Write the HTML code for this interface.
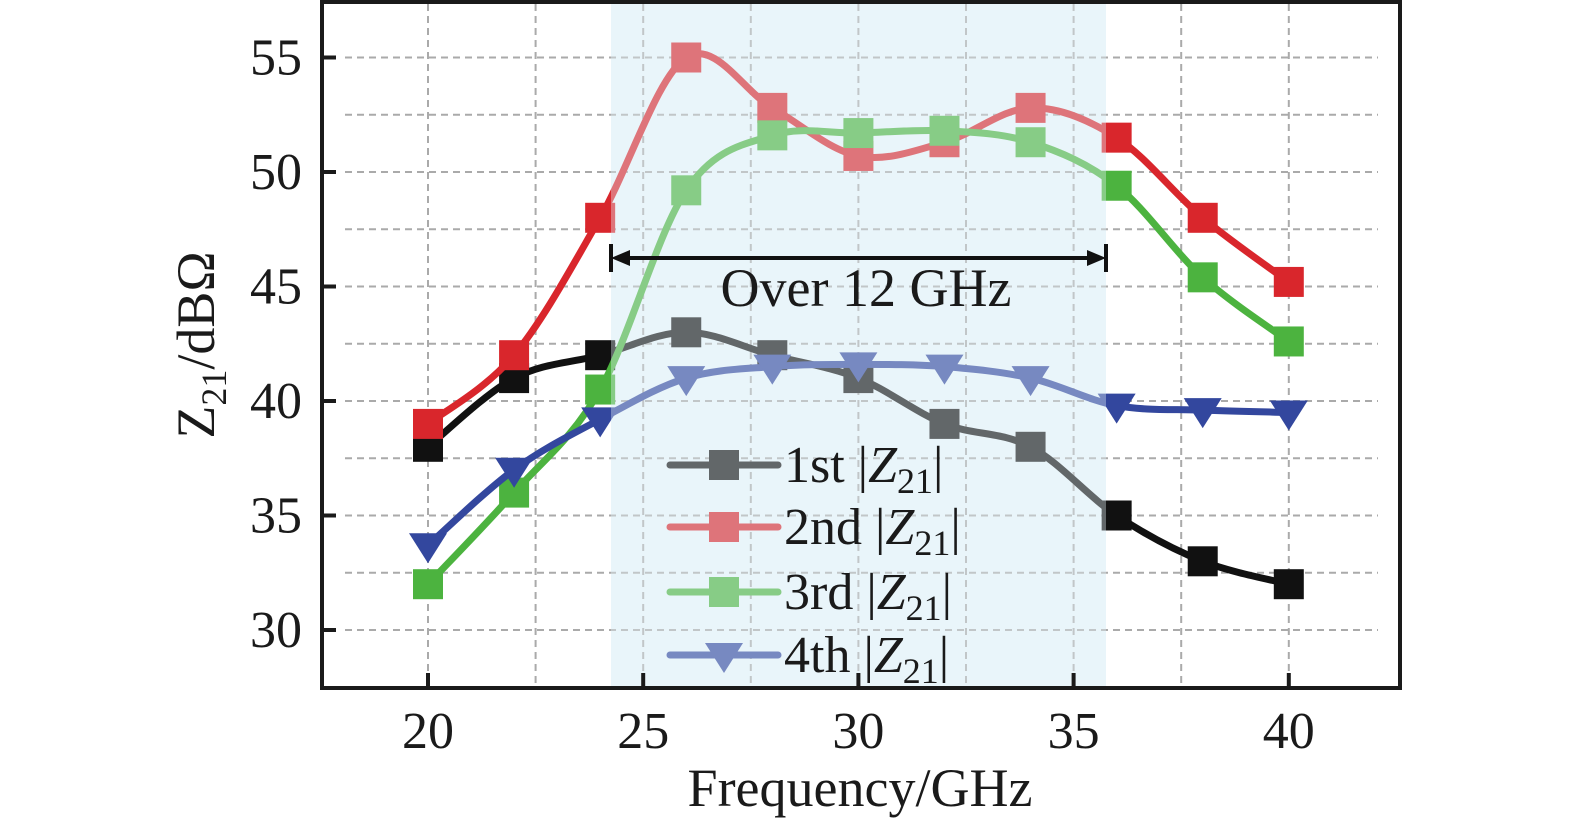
<!DOCTYPE html>
<html><head><meta charset="utf-8"><style>
html,body{margin:0;padding:0;background:#fff;}
svg{display:block;}
text{font-family:"Liberation Serif","Times New Roman",serif;fill:#1a1a1a;}
</style></head><body>
<svg id="s" width="1575" height="828" viewBox="0 0 1575 828" xmlns="http://www.w3.org/2000/svg">
<rect x="611" y="2" width="495" height="685" fill="#ebf5fa"/>
<g id="grid" stroke="#aaa" stroke-width="2" stroke-dasharray="7,5" fill="none"></g>
<g id="series"></g>
<g id="leg"></g>
<rect x="611" y="2" width="495" height="685" fill="rgba(232,244,250,0.38)"/>
<rect x="322" y="2" width="1078" height="686" fill="none" stroke="#1a1a1a" stroke-width="4"/>
<g id="ticks" stroke="#1a1a1a" stroke-width="4"></g>
<g font-size="52" text-anchor="end" id="ylab"></g>
<g font-size="52" text-anchor="middle" id="xlab"></g>
<text x="860" y="806" font-size="54" text-anchor="middle">Frequency/GHz</text>
<text transform="translate(214,345) rotate(-90)" font-size="54" text-anchor="middle">Z<tspan font-size="36" dy="12">21</tspan><tspan dy="-12">/dBΩ</tspan></text>
<g stroke="#111" stroke-width="4">
<line x1="618" y1="258" x2="1099" y2="258"/>
<line x1="611" y1="244" x2="611" y2="272"/>
<line x1="1106" y1="244" x2="1106" y2="272"/>
</g>
<polygon points="611,258 630,250 630,266" fill="#111"/>
<polygon points="1106,258 1087,250 1087,266" fill="#111"/>
<text x="866" y="306" font-size="54" text-anchor="middle">Over 12 GHz</text>
<g font-size="52" id="legt"></g>
</svg>
<script>
const NS="http://www.w3.org/2000/svg";
function el(p,t,a,txt){const e=document.createElementNS(NS,t);for(const k in a)e.setAttribute(k,a[k]);if(txt!==undefined)e.innerHTML=txt;document.getElementById(p).appendChild(e);return e;}
const X=f=>428+(f-20)*43.04, Y=v=>630-(v-30)*22.9;
for(let f=20;f<=40;f+=2.5){el('grid','line',{x1:X(f),y1:4,x2:X(f),y2:686});}
for(let v=27.5;v<=57.5;v+=2.5){if(Y(v)>4&&Y(v)<686)el('grid','line',{x1:345,y1:Y(v),x2:1378,y2:Y(v)});}
for(let v=30;v<=55;v+=5){el('ticks','line',{x1:322,y1:Y(v),x2:336,y2:Y(v)});el('ylab','text',{x:302,y:Y(v)+17},v);}
for(let f=20;f<=40;f+=5){el('ticks','line',{x1:X(f),y1:687,x2:X(f),y2:673});el('xlab','text',{x:X(f),y:748},f);}
const fs=[20,22,24,26,28,30,32,34,36,38,40];
const S=[
 {c:"#111",d:[38,41,42,43,42,41,39,38,35,33,32],m:"s"},
 {c:"#d9262c",d:[39,42,48,55,52.8,50.7,51.3,52.8,51.5,48,45.2],m:"s"},
 {c:"#4cb33f",d:[32,36,40.5,49.2,51.6,51.7,51.8,51.3,49.4,45.4,42.6],m:"s"},
 {c:"#33479e",d:[33.7,37,39.2,41,41.5,41.6,41.5,41,39.8,39.6,39.5],m:"t"}];
function path(p){let d=`M${p[0][0]},${p[0][1]}`;for(let i=0;i<p.length-1;i++){const a=p[i-1]||p[i],b=p[i],c=p[i+1],e=p[i+2]||c;
 d+=` C${b[0]+(c[0]-a[0])/6},${b[1]+(c[1]-a[1])/6} ${c[0]-(e[0]-b[0])/6},${c[1]-(e[1]-b[1])/6} ${c[0]},${c[1]}`;}return d;}
function marker(g,m,x,y,c){if(m=="s")el(g,'rect',{x:x-15,y:y-15,width:30,height:30,fill:c});
 else el(g,'polygon',{points:`${x-19},${y-12} ${x+19},${y-12} ${x},${y+18}`,fill:c});}
S.forEach(s=>{const p=fs.map((f,i)=>[X(f),Y(s.d[i])]);
 el('series','path',{d:path(p),stroke:s.c,"stroke-width":7,fill:"none"});
 p.forEach(q=>marker('series',s.m,q[0],q[1],s.c));});
const names=["1st","2nd","3rd","4th"],ly=[465,527,592,655];
S.forEach((s,i)=>{el('leg','line',{x1:670,y1:ly[i],x2:778,y2:ly[i],stroke:s.c,"stroke-width":7,"stroke-linecap":"round"});
 marker('leg',s.m,724,ly[i],s.c);
 el('legt','text',{x:784,y:ly[i]+17},`${names[i]} |<tspan font-style="italic">Z</tspan><tspan font-size="36" dy="11">21</tspan><tspan dy="-11">|</tspan>`);});
</script>
</body></html>
